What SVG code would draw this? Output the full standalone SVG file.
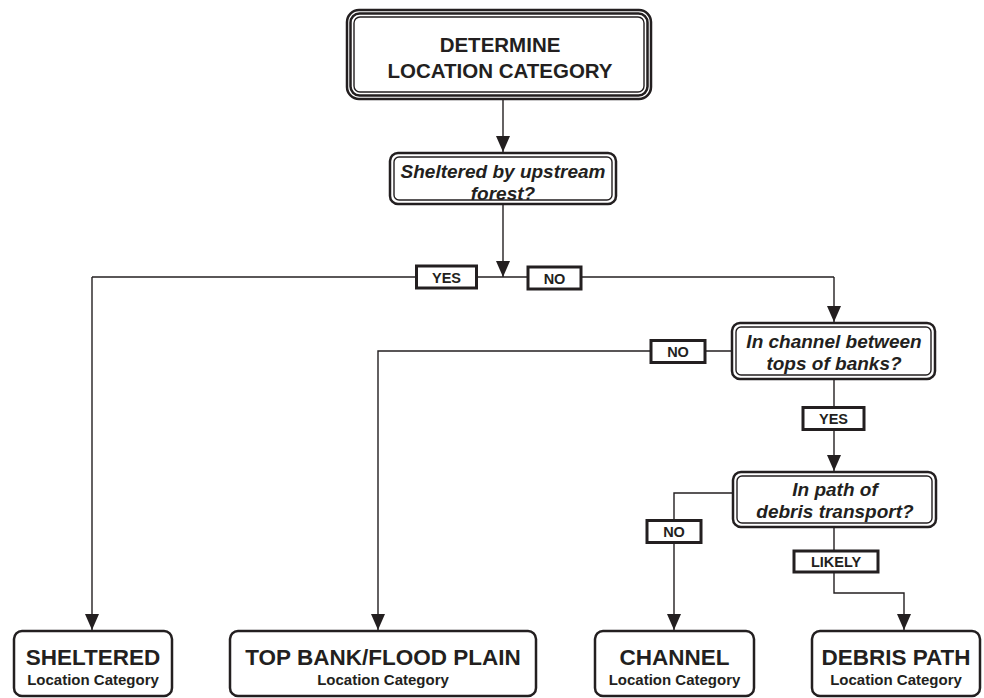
<svg xmlns="http://www.w3.org/2000/svg" width="984" height="698" viewBox="0 0 984 698">
<style>
  .t { font-family: "Liberation Sans", Arial, sans-serif; font-weight: bold; fill: #231f20; text-anchor: middle; }
  .title { font-size: 22.5px; }
  .head { font-size: 20.5px; }
  .q { font-size: 19px; font-style: italic; }
  .sub { font-size: 15px; }
  .lab { font-size: 14.5px; }
  .conn { fill: none; stroke: #231f20; stroke-width: 1.4; }
  .lbox { fill: #fff; stroke: #231f20; stroke-width: 3; }
  .o { fill: #fff; stroke: #231f20; stroke-width: 2.5; }
  .i { fill: none; stroke: #231f20; stroke-width: 1.4; }
  .end { fill: #fff; stroke: #231f20; stroke-width: 2.5; }
</style>
<defs>
  <marker id="arrd" markerUnits="userSpaceOnUse" markerWidth="14" markerHeight="16" viewBox="0 0 14 16" refX="7" refY="16" orient="0">
    <path d="M0,0 L14,0 L7,16 Z" fill="#231f20"/>
  </marker>
</defs>
<rect width="984" height="698" fill="#fff"/>

<g id="connectors">
  <path class="conn" d="M503,100 V152" marker-end="url(#arrd)"/>
  <path class="conn" d="M503,204 V277" marker-end="url(#arrd)"/>
  <path class="conn" d="M92,277 H834"/>
  <path class="conn" d="M92,277 V630" marker-end="url(#arrd)"/>
  <path class="conn" d="M834,277 V322" marker-end="url(#arrd)"/>
  <path class="conn" d="M731,351 H378 V630" marker-end="url(#arrd)"/>
  <path class="conn" d="M834,380 V471" marker-end="url(#arrd)"/>
  <path class="conn" d="M732,493 H674 V630" marker-end="url(#arrd)"/>
  <path class="conn" d="M834,528 V593 H904 V630" marker-end="url(#arrd)"/>
  <g id="labels">
    <rect class="lbox" x="416.5" y="266" width="60" height="22"/>
    <text class="t lab" x="446.5" y="282.5">YES</text>
    <rect class="lbox" x="528" y="267" width="53" height="22"/>
    <text class="t lab" x="554.5" y="283.5">NO</text>
    <rect class="lbox" x="651" y="340.5" width="54" height="22"/>
    <text class="t lab" x="678" y="357">NO</text>
    <rect class="lbox" x="803" y="407.5" width="61" height="22"/>
    <text class="t lab" x="833.5" y="424">YES</text>
    <rect class="lbox" x="647" y="520.5" width="54" height="22"/>
    <text class="t lab" x="674" y="537">NO</text>
    <rect class="lbox" x="794" y="551" width="84" height="21"/>
    <text class="t lab" x="836" y="567">LIKELY</text>
  </g>
</g>

<g id="start">
  <rect class="o" x="347" y="10" width="304" height="89" rx="12"/>
  <rect class="i" x="350.5" y="13.5" width="297" height="82" rx="9" style="stroke-width:2.5"/>
  <rect class="i" x="354" y="17" width="290" height="75" rx="6"/>
  <text class="t head" x="500" y="52">DETERMINE</text>
  <text class="t head" x="500" y="78">LOCATION CATEGORY</text>
</g>

<g id="q-sheltered">
  <rect class="o" x="390" y="153" width="226" height="51" rx="8"/>
  <rect class="i" x="394" y="157" width="218" height="43" rx="5"/>
  <text class="t q" x="503" y="178">Sheltered by upstream</text>
  <text class="t q" x="503" y="200">forest?</text>
</g>

<g id="q-channel">
  <rect class="o" x="732" y="323" width="203" height="56" rx="8"/>
  <rect class="i" x="736" y="327" width="195" height="48" rx="5"/>
  <text class="t q" x="834" y="348">In channel between</text>
  <text class="t q" x="834" y="370">tops of banks?</text>
</g>

<g id="q-debris">
  <rect class="o" x="733" y="472" width="203" height="55" rx="8"/>
  <rect class="i" x="737" y="476" width="195" height="47" rx="5"/>
  <text class="t q" x="835" y="496">In path of</text>
  <text class="t q" x="835" y="518">debris transport?</text>
</g>

<g id="sheltered">
  <rect class="end" x="14" y="631" width="158" height="65" rx="8"/>
  <text class="t title" x="93" y="665">SHELTERED</text>
  <text class="t sub" x="93" y="685">Location Category</text>
</g>

<g id="topbank">
  <rect class="end" x="230" y="631" width="306" height="65" rx="8"/>
  <text class="t title" x="383" y="665">TOP BANK/FLOOD PLAIN</text>
  <text class="t sub" x="383" y="685">Location Category</text>
</g>

<g id="channel">
  <rect class="end" x="595" y="631" width="159" height="65" rx="8"/>
  <text class="t title" x="674.5" y="665">CHANNEL</text>
  <text class="t sub" x="674.5" y="685">Location Category</text>
</g>

<g id="debris">
  <rect class="end" x="812" y="631" width="168" height="65" rx="8"/>
  <text class="t title" x="896" y="665">DEBRIS PATH</text>
  <text class="t sub" x="896" y="685">Location Category</text>
</g>
</svg>
